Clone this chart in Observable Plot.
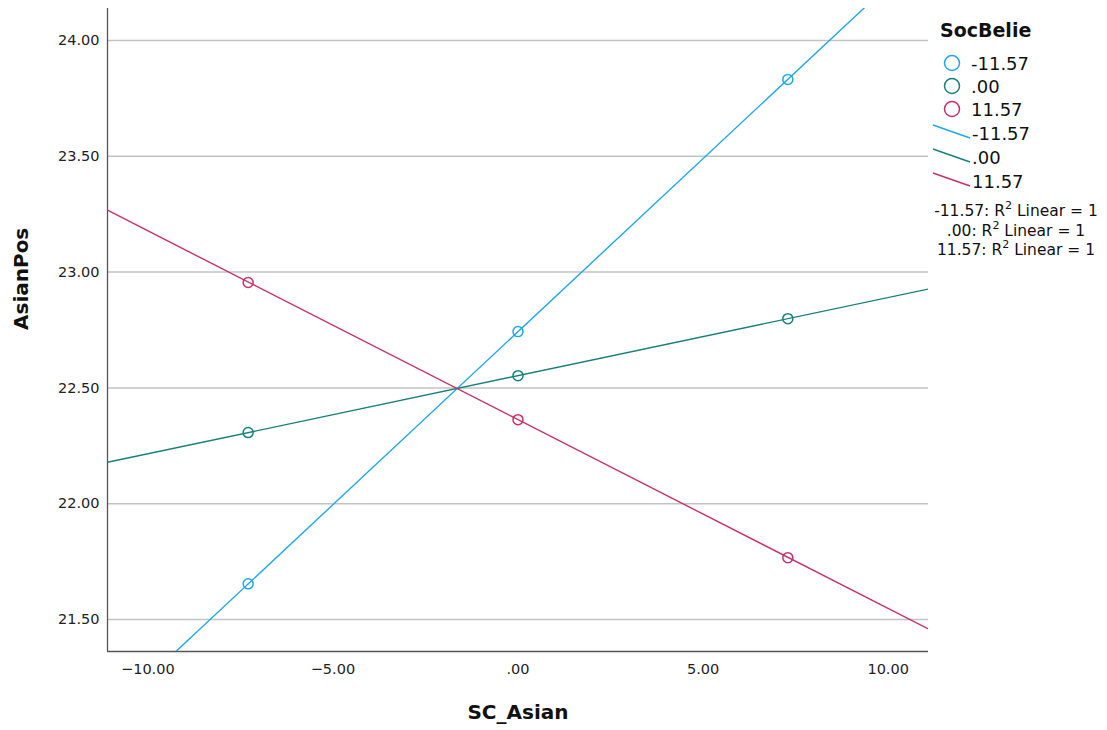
<!DOCTYPE html>
<html>
<head>
<meta charset="utf-8">
<script src="https://cdn.jsdelivr.net/npm/d3@7"></script>
<script src="https://cdn.jsdelivr.net/npm/@observablehq/plot@0.6"></script>
<style>
  body { margin: 0; background: #fff; }
  #wrap { position: relative; width: 1107px; height: 730px; font-family: "DejaVu Sans", sans-serif; }
  #legend { position: absolute; left: 0; top: 0; }
</style>
</head>
<body>
<div id="wrap"></div>
<script>
// ---- data ----
const groups = ["-11.57", ".00", "11.57"];
const colors = ["#1FA8EE", "#17807A", "#C9306B"];
const xPoints = [-7.29, 0, 7.29];
const bluePoints = [21.654, 22.743, 23.832];
const tealPoints = [22.307, 22.553, 22.799];
const pinkPoints = [22.955, 22.363, 21.767];
// fit-line ends, read at the left and right edges of the plot
const lineX = [-11.09, 11.09];
const blueLine = [21.086, 24.400];
const tealLine = [22.179, 22.927];
const pinkLine = [23.267, 21.459];
const xTicks = [-10, -5, 0, 5, 10];
const yTicks = [21.5, 22.0, 22.5, 23.0, 23.5, 24.0];
const xDomain = [-11.09, 11.09];
const yDomain = [21.362, 24.138];
const r2Labels = ["-11.57: R", ".00: R", "11.57: R"];

const seriesPts = [bluePoints, tealPoints, pinkPoints];
const seriesLines = [blueLine, tealLine, pinkLine];
const pts = [];
seriesPts.forEach((ys, g) => ys.forEach((y, i) => pts.push({x: xPoints[i], y, g: groups[g]})));
const lns = [];
seriesLines.forEach((ys, g) => ys.forEach((y, i) => lns.push({x: lineX[i], y, g: groups[g]})));

const fmt = d3.format(".2f");
const tf = v => { const s = fmt(v); return s.replace(/^(−?)0\./, "$1."); };

const chart = Plot.plot({
  width: 1107,
  height: 730,
  marginLeft: 107,
  marginRight: 179,
  marginTop: 8,
  marginBottom: 79,
  style: {fontFamily: "DejaVu Sans, sans-serif", fontSize: "14.5px", color: "#222", background: "#fff"},
  x: {domain: xDomain, ticks: xTicks, tickFormat: tf, tickSize: 0, tickPadding: 12, label: null},
  y: {domain: yDomain, ticks: yTicks, tickFormat: tf, tickSize: 0, tickPadding: 8, label: null},
  color: {domain: groups, range: colors},
  marks: [
    Plot.ruleY(yTicks, {stroke: "#c3c3c3", strokeWidth: 1.5}),
    Plot.ruleX([xDomain[0]], {stroke: "#555", strokeWidth: 1.3}),
    Plot.ruleY([yDomain[0]], {stroke: "#555", strokeWidth: 1.3}),
    Plot.line(lns, {x: "x", y: "y", z: "g", stroke: "g", strokeWidth: 1.4, clip: true}),
    Plot.dot(pts, {x: "x", y: "y", stroke: "g", r: 5, strokeWidth: 1.5, fill: "none"}),
    Plot.text(["SC_Asian"], {frameAnchor: "bottom", dy: 61, lineAnchor: "middle", fontSize: 20, fontWeight: "bold", fill: "#111"}),
    Plot.text(["AsianPos"], {frameAnchor: "left", dx: -86, rotate: -90, lineAnchor: "middle", fontSize: 20, fontWeight: "bold", fill: "#111"})
  ]
});
const wrap = document.getElementById("wrap");
wrap.appendChild(chart);

// ---- legend ----
const leg = d3.select(wrap).append("svg")
  .attr("id", "legend").attr("width", 1107).attr("height", 730)
  .style("font-family", "DejaVu Sans, sans-serif");
leg.append("text").attr("x", 940).attr("y", 37).attr("font-size", 19).attr("font-weight", "bold").attr("fill", "#111").text("SocBelie");
groups.forEach((g, i) => {
  const y = 63 + i * 23;
  leg.append("circle").attr("cx", 952).attr("cy", y).attr("r", 7.5).attr("fill", "none").attr("stroke", colors[i]).attr("stroke-width", 1.5);
  leg.append("text").attr("x", 971).attr("y", y + 6.5).attr("font-size", 18).attr("fill", "#111").text(g);
});
groups.forEach((g, i) => {
  const y = 133 + i * 24;
  leg.append("line").attr("x1", 933).attr("y1", y - 8).attr("x2", 970).attr("y2", y + 5).attr("stroke", colors[i]).attr("stroke-width", 1.4);
  leg.append("text").attr("x", 972).attr("y", y + 6.5).attr("font-size", 18).attr("fill", "#111").text(g);
});
r2Labels.forEach((t, i) => {
  const y = 216 + i * 19.5;
  const tx = leg.append("text").attr("x", 1016).attr("y", y).attr("font-size", 15.5).attr("fill", "#111").attr("text-anchor", "middle");
  tx.append("tspan").text(t);
  tx.append("tspan").attr("dy", -7).attr("font-size", 11).text("2");
  tx.append("tspan").attr("dy", 7).text(" Linear = 1");
});
</script>
</body>
</html>
